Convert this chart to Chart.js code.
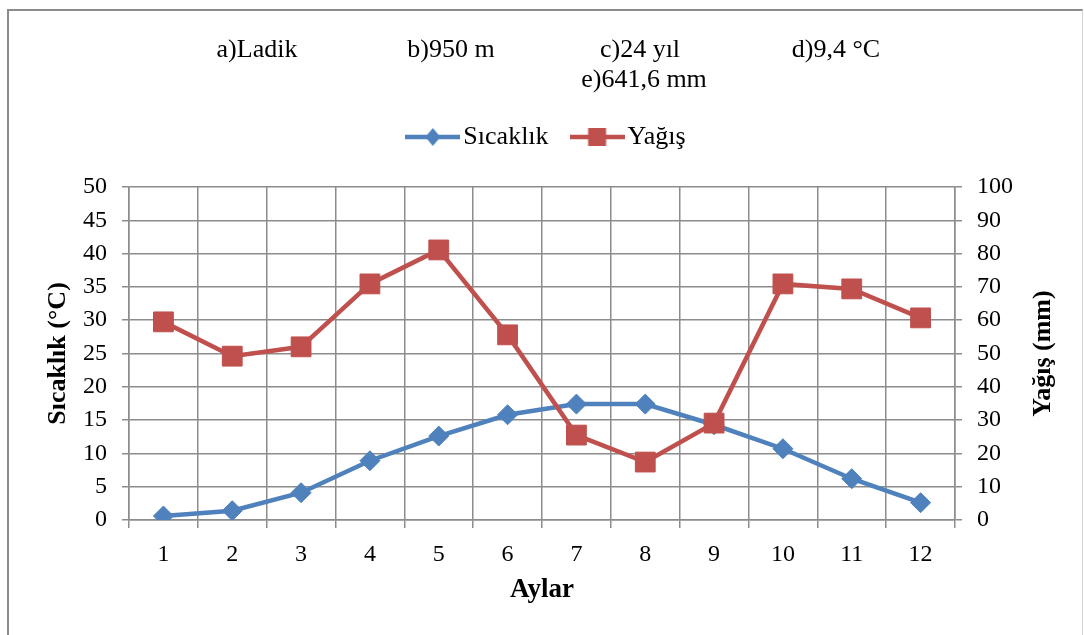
<!DOCTYPE html>
<html>
<head>
<meta charset="utf-8">
<script src="https://cdn.jsdelivr.net/npm/chart.js@4.4.1/dist/chart.umd.min.js"></script>
<style>
  html, body { margin: 0; padding: 0; background: #fff; overflow: hidden; }
  #frame { position: absolute; left: 7px; top: 9px; width: 1073px; height: 700px;
           border: 2px solid #8c8c8c; border-right: 1px solid #d4d4d4; }
  #wrap { position: absolute; left: 0; top: 0; width: 1084px; height: 635px; }
</style>
</head>
<body>
<div id="frame"></div>
<div id="wrap"><canvas id="iklim"></canvas></div>
<script>
// veriler
const aylar = ['1', '2', '3', '4', '5', '6', '7', '8', '9', '10', '11', '12'];
const sicaklik = [0.6, 1.4, 4.1, 8.9, 12.6, 15.8, 17.4, 17.4, 14.3, 10.7, 6.2, 2.6];
const yagis = [59.5, 49.2, 52.0, 70.9, 81.1, 55.6, 25.5, 17.4, 29.1, 70.9, 69.4, 60.7];
const baslikUst = ['a)Ladik', 'b)950 m', 'c)24 yıl', 'd)9,4 °C'];
const baslikAlt = 'e)641,6 mm';

const mavi = '#4F81BD';
const kirmizi = '#C0504D';
const gri = '#8c8c8c';
const yazi = '"Liberation Serif", "Times New Roman", serif';

// lejant icin cizgi + isaret
function lejantResmi(renk, sekil) {
    const c = document.createElement('canvas');
    c.width = 55; c.height = 24;
    const g = c.getContext('2d');
    g.strokeStyle = renk; g.lineWidth = 4.5;
    g.beginPath(); g.moveTo(0, 12); g.lineTo(55, 12); g.stroke();
    g.fillStyle = renk;
    if (sekil === 'elmas') {
        g.beginPath();
        g.moveTo(27.5, 3); g.lineTo(35, 12); g.lineTo(27.5, 21); g.lineTo(20, 12);
        g.closePath(); g.fill();
    } else {
        g.fillRect(18.5, 3, 18, 18);
    }
    return c;
}

const yazilar = {
    id: 'yazilar',
    beforeInit(chart) {
        const fit = chart.legend.fit;
        chart.legend.fit = function () {
            fit.bind(chart.legend)();
            this.height += 27;
        };
    },
    afterDraw(chart) {
        const ctx = chart.ctx;
        ctx.save();
        ctx.fillStyle = '#000';
        ctx.font = '26px ' + yazi;
        ctx.textAlign = 'center';
        ctx.textBaseline = 'alphabetic';
        const xs = [257, 451, 640, 836];
        baslikUst.forEach((t, i) => ctx.fillText(t, xs[i], 57));
        ctx.fillText(baslikAlt, 644, 87);
        // sag eksen basligi
        const a = chart.chartArea;
        ctx.translate(chart.scales.y1.right - 41, (a.top + a.bottom) / 2);
        ctx.rotate(-Math.PI / 2);
        ctx.font = 'bold 26px ' + yazi;
        ctx.textBaseline = 'middle';
        ctx.fillText('Yağış (mm)', 0, 0);
        ctx.restore();
    }
};

const isaretler = [lejantResmi(mavi, 'elmas'), lejantResmi(kirmizi, 'kare')];

new Chart(document.getElementById('iklim'), {
    type: 'line',
    data: {
        labels: aylar,
        datasets: [{
            label: 'Sıcaklık',
            data: sicaklik,
            yAxisID: 'y',
            borderColor: mavi,
            backgroundColor: mavi,
            borderWidth: 4.5,
            pointStyle: 'rectRot',
            pointRadius: 10,
            pointBorderWidth: 1,
            order: 1
        }, {
            label: 'Yağış',
            data: yagis,
            yAxisID: 'y1',
            borderColor: kirmizi,
            backgroundColor: kirmizi,
            borderWidth: 4.5,
            pointStyle: 'rect',
            pointRadius: 14,
            pointBorderWidth: 1,
            order: 0
        }]
    },
    options: {
        responsive: true,
        maintainAspectRatio: false,
        animation: false,
        layout: { padding: { left: 17, right: 0, top: 93, bottom: 0 } },
        plugins: {
            title: { display: false },
            tooltip: { enabled: false },
            legend: {
                position: 'top',
                labels: {
                    usePointStyle: true,
                    pointStyleWidth: 35,
                    padding: 31,
                    color: '#000',
                    font: { family: yazi, size: 26 },
                    generateLabels(chart) {
                        return chart.data.datasets.map((ds, i) => ({
                            text: ds.label,
                            fillStyle: ds.borderColor,
                            strokeStyle: ds.borderColor,
                            lineWidth: 0,
                            pointStyle: isaretler[i],
                            fontColor: '#000',
                            hidden: false,
                            datasetIndex: i
                        }));
                    }
                }
            }
        },
        scales: {
            x: {
                offset: true,
                grid: { offset: true, color: gri, lineWidth: 1.5, tickLength: 8 },
                border: { color: gri, width: 1.5 },
                ticks: { color: '#000', font: { family: yazi, size: 24 }, padding: 12, maxRotation: 0 },
                title: {
                    display: true, text: 'Aylar', color: '#000',
                    font: { family: yazi, size: 27, weight: 'bold' },
                    padding: { top: 0, bottom: 29 }
                },
                afterFit(s) { s.height = 115; }
            },
            y: {
                position: 'left',
                min: 0, max: 50,
                ticks: { stepSize: 5, color: '#000', font: { family: yazi, size: 24 }, padding: 15 },
                grid: { color: gri, lineWidth: 1.5, tickLength: 7 },
                border: { color: gri, width: 1.5 },
                title: {
                    display: true, text: 'Sıcaklık (°C)', color: '#000',
                    font: { family: yazi, size: 26, weight: 'bold' },
                    padding: { top: 26, bottom: 0 }
                },
                afterFit(s) { s.width = 112; }
            },
            y1: {
                position: 'right',
                min: 0, max: 100,
                ticks: { stepSize: 10, color: '#000', font: { family: yazi, size: 24 }, padding: 15 },
                grid: { drawOnChartArea: false, color: gri, lineWidth: 1.5, tickLength: 7 },
                border: { color: gri, width: 1.5 },
                afterFit(s) { s.width = 129; }
            }
        }
    },
    plugins: [yazilar]
});
</script>
</body>
</html>
